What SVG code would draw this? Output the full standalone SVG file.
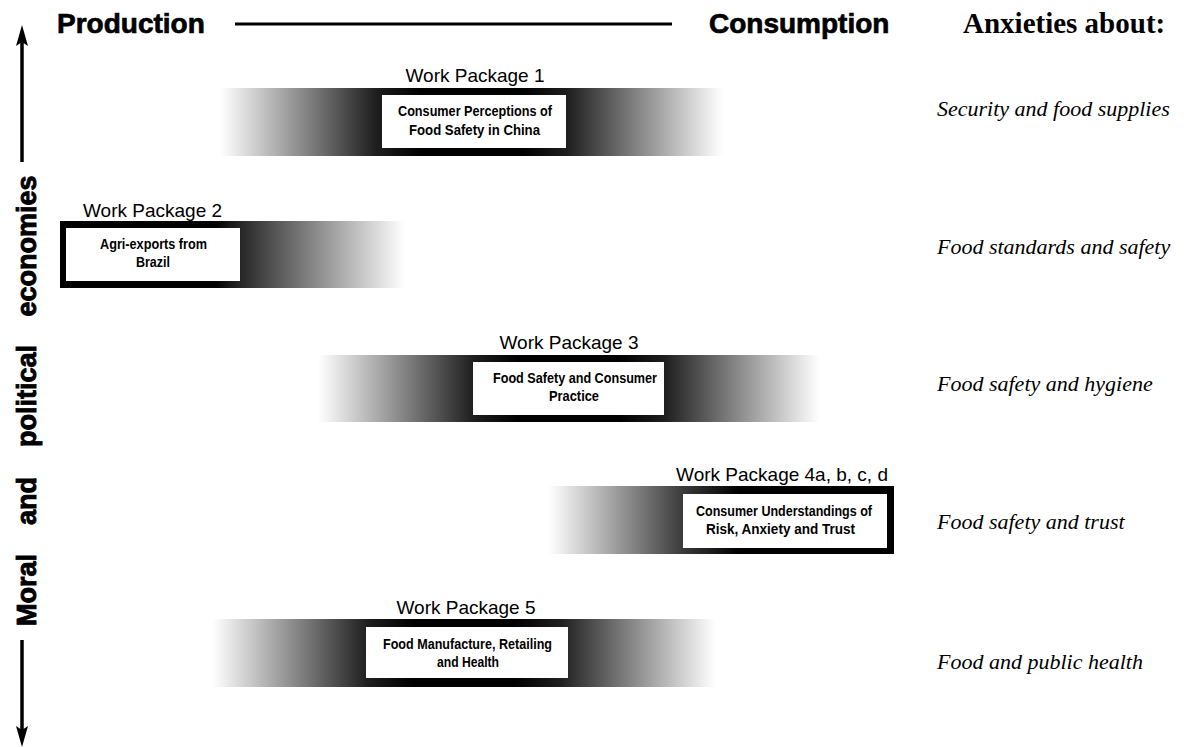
<svg xmlns="http://www.w3.org/2000/svg" width="1184" height="747" viewBox="0 0 1184 747">
<style>
.hdr{font-family:"Liberation Sans",Arial,sans-serif;font-weight:bold;font-size:28px;fill:#000;stroke:#000;stroke-width:0.7}
.vert{font-family:"Liberation Sans",Arial,sans-serif;font-weight:bold;font-size:27px;fill:#000;stroke:#000;stroke-width:0.9}
.anx{font-family:"Liberation Serif","Times New Roman",serif;font-weight:bold;font-size:29px;fill:#000}
.it{font-family:"Liberation Serif","Times New Roman",serif;font-style:italic;font-size:22px;fill:#000}
.wp{font-family:"Liberation Sans",Arial,sans-serif;font-size:19px;fill:#000}
.bx{font-family:"Liberation Sans",Arial,sans-serif;font-weight:bold;font-size:15px;fill:#000}
.box{fill:#fff}
</style>
<defs>
<linearGradient id="gSym" x1="0" y1="0" x2="1" y2="0">
<stop offset="0" stop-color="#fff"/>
<stop offset="0.02" stop-color="#f2f2f2"/>
<stop offset="0.31" stop-color="#1e1e1e"/>
<stop offset="0.4" stop-color="#000"/>
<stop offset="0.6" stop-color="#000"/>
<stop offset="0.69" stop-color="#1e1e1e"/>
<stop offset="0.98" stop-color="#f2f2f2"/>
<stop offset="1" stop-color="#fff"/>
</linearGradient>
<linearGradient id="gLeft" x1="0" y1="0" x2="1" y2="0">
<stop offset="0" stop-color="#000"/>
<stop offset="0.45" stop-color="#000"/>
<stop offset="0.53" stop-color="#2a2a2a"/>
<stop offset="0.97" stop-color="#f2f2f2"/>
<stop offset="1" stop-color="#fff"/>
</linearGradient>
<linearGradient id="gRight" x1="0" y1="0" x2="1" y2="0">
<stop offset="0" stop-color="#fff"/>
<stop offset="0.03" stop-color="#f2f2f2"/>
<stop offset="0.39" stop-color="#3a3a3a"/>
<stop offset="0.55" stop-color="#000"/>
<stop offset="1" stop-color="#000"/>
</linearGradient>
</defs>
<rect width="1184" height="747" fill="#fff"/>

<g id="header">
<text class="hdr" x="57" y="33">Production</text>
<text class="hdr" x="709" y="33">Consumption</text>
<text class="anx" x="963" y="33">Anxieties about:</text>
</g>

<g id="axis">
<text class="vert" transform="translate(36,246) rotate(-90)" text-anchor="middle">economies</text>
<text class="vert" transform="translate(36,396) rotate(-90)" text-anchor="middle">political</text>
<text class="vert" transform="translate(36,501) rotate(-90)" text-anchor="middle">and</text>
<text class="vert" transform="translate(36,590) rotate(-90)" text-anchor="middle">Moral</text>
</g>

<g id="connectors" stroke="#000" fill="#000">
<line x1="235" y1="24" x2="672" y2="24" stroke-width="3"/>
<line x1="22" y1="40" x2="22" y2="162" stroke-width="3.5"/>
<polygon points="22,25 16,46 22,42 28,46" stroke="none"/>
<line x1="22" y1="640" x2="22" y2="732" stroke-width="3.5"/>
<polygon points="22,747 16,726 22,730 28,726" stroke="none"/>
</g>

<g id="wp1">
<text class="wp" x="475" y="82" text-anchor="middle">Work Package 1</text>
<rect x="220" y="88" width="503" height="68" fill="url(#gSym)"/>
<rect class="box" x="382" y="95" width="184" height="53"/>
<text class="bx" x="398" y="116" textLength="154" lengthAdjust="spacingAndGlyphs">Consumer Perceptions of</text>
<text class="bx" x="409" y="135" textLength="131" lengthAdjust="spacingAndGlyphs">Food Safety in China</text>
</g>

<g id="wp2">
<text class="wp" x="83" y="217">Work Package 2</text>
<rect x="60" y="221" width="345" height="67" fill="url(#gLeft)"/>
<rect class="box" x="66" y="228" width="174" height="53"/>
<text class="bx" x="100" y="249" textLength="107" lengthAdjust="spacingAndGlyphs">Agri-exports from</text>
<text class="bx" x="136" y="267" textLength="34" lengthAdjust="spacingAndGlyphs">Brazil</text>
</g>

<g id="wp3">
<text class="wp" x="569" y="349" text-anchor="middle">Work Package 3</text>
<rect x="318" y="355" width="502" height="67" fill="url(#gSym)"/>
<rect class="box" x="473" y="362" width="191" height="53"/>
<text class="bx" x="493" y="383" textLength="164" lengthAdjust="spacingAndGlyphs">Food Safety and Consumer</text>
<text class="bx" x="549" y="401" textLength="50" lengthAdjust="spacingAndGlyphs">Practice</text>
</g>

<g id="wp4">
<text class="wp" x="888" y="481" text-anchor="end">Work Package 4a, b, c, d</text>
<rect x="548" y="486" width="346" height="68" fill="url(#gRight)"/>
<rect class="box" x="683" y="494" width="204" height="54"/>
<text class="bx" x="696" y="516" textLength="176" lengthAdjust="spacingAndGlyphs">Consumer Understandings of</text>
<text class="bx" x="706" y="534" textLength="149" lengthAdjust="spacingAndGlyphs">Risk, Anxiety and Trust</text>
</g>

<g id="wp5">
<text class="wp" x="466" y="614" text-anchor="middle">Work Package 5</text>
<rect x="212" y="619" width="504" height="68" fill="url(#gSym)"/>
<rect class="box" x="366" y="627" width="202" height="51"/>
<text class="bx" x="383" y="649" textLength="169" lengthAdjust="spacingAndGlyphs">Food Manufacture, Retailing</text>
<text class="bx" x="437" y="667" textLength="62" lengthAdjust="spacingAndGlyphs">and Health</text>
</g>

<g id="anxieties">
<text class="it" x="937" y="116">Security and food supplies</text>
<text class="it" x="937" y="254">Food standards and safety</text>
<text class="it" x="937" y="391">Food safety and hygiene</text>
<text class="it" x="937" y="529">Food safety and trust</text>
<text class="it" x="937" y="669">Food and public health</text>
</g>
</svg>
